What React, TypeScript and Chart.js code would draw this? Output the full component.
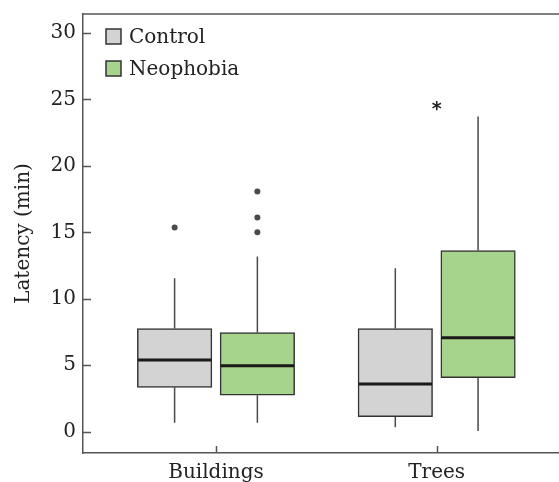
import React, { useEffect, useRef } from "react";
import { Chart, registerables } from "chart.js";

Chart.register(...registerables);

// ---- data ----
const categories = ["Buildings", "Trees"];
const seriesNames = ["Control", "Neophobia"];

const controlLow = [0.68, 0.33];
const controlQ1 = [3.34, 1.13];
const controlMedian = [5.4, 3.59];
const controlQ3 = [7.76, 7.76];
const controlHigh = [11.55, 12.3];
const controlOutliers = [[15.36], []];

const neoLow = [0.68, 0.05];
const neoQ1 = [2.74, 4.07];
const neoMedian = [4.97, 7.06];
const neoQ3 = [7.46, 13.63];
const neoHigh = [13.18, 23.72];
const neoOutliers = [[18.07, 16.11, 15.01], []];

const significance = ["", "*"];
const significanceValue = [0, 24.5];

const yTicks = [0, 5, 10, 15, 20, 25, 30];

// ---- style ----
const FONT = "'DejaVu Serif', serif";
const AXIS_COLOR = "#555555";
const TEXT_COLOR = "#222222";
const CONTROL_FILL = "#d3d3d3";
const NEO_FILL = "#a6d48c";
const BOX_BORDER = "#333333";
const GROUP_OFFSET = 0.1875;
const BOX_WIDTH = 74.5;

type Stats = { low: number[]; q1: number[]; med: number[]; q3: number[]; high: number[] };
const stats: Stats[] = [
  { low: controlLow, q1: controlQ1, med: controlMedian, q3: controlQ3, high: controlHigh },
  { low: neoLow, q1: neoQ1, med: neoMedian, q3: neoQ3, high: neoHigh },
];

const boxPlugin = {
  id: "boxExtras",
  beforeDatasetsDraw(chart: any) {
    const { ctx } = chart;
    const y = chart.scales.y;
    [0, 1].forEach((di) => {
      const meta = chart.getDatasetMeta(di);
      meta.data.forEach((el: any, i: number) => {
        const s = stats[di];
        ctx.save();
        ctx.strokeStyle = "#4a4a4a";
        ctx.lineWidth = 1.5;
        ctx.beginPath();
        ctx.moveTo(el.x, y.getPixelForValue(s.high[i]));
        ctx.lineTo(el.x, y.getPixelForValue(s.q3[i]));
        ctx.moveTo(el.x, y.getPixelForValue(s.q1[i]));
        ctx.lineTo(el.x, y.getPixelForValue(s.low[i]));
        ctx.stroke();
        ctx.restore();
      });
    });
  },
  afterDatasetsDraw(chart: any) {
    const { ctx, chartArea } = chart;
    const x = chart.scales.x;
    const y = chart.scales.y;
    [0, 1].forEach((di) => {
      const meta = chart.getDatasetMeta(di);
      meta.data.forEach((el: any, i: number) => {
        const s = stats[di];
        const py = y.getPixelForValue(s.med[i]);
        ctx.save();
        ctx.strokeStyle = "#1a1a1a";
        ctx.lineWidth = 3;
        ctx.beginPath();
        ctx.moveTo(el.x - el.width / 2 + 0.5, py);
        ctx.lineTo(el.x + el.width / 2 - 0.5, py);
        ctx.stroke();
        ctx.restore();
      });
    });
    significance.forEach((t, i) => {
      if (!t) return;
      const px = x.getPixelForValue(i + 1);
      const py = y.getPixelForValue(significanceValue[i]);
      ctx.save();
      ctx.fillStyle = "#222";
      ctx.font = "bold 19px 'DejaVu Sans'";
      ctx.textAlign = "center";
      ctx.textBaseline = "alphabetic";
      ctx.fillText(t, px, py + 9);
      ctx.restore();
    });
    ctx.save();
    ctx.strokeStyle = AXIS_COLOR;
    ctx.lineWidth = 1.5;
    ctx.beginPath();
    ctx.moveTo(chartArea.left, chartArea.top);
    ctx.lineTo(chartArea.right, chartArea.top);
    yTicks.forEach((v) => {
      const py = Math.round(y.getPixelForValue(v)) + 0.5;
      ctx.moveTo(chartArea.left, py);
      ctx.lineTo(chartArea.left + 8, py);
    });
    categories.forEach((_, i) => {
      const px = Math.round(x.getPixelForValue(i + 1)) + 0.5;
      ctx.moveTo(px, chartArea.bottom);
      ctx.lineTo(px, chartArea.bottom - 7);
    });
    ctx.stroke();
    ctx.restore();
    const fills = [CONTROL_FILL, NEO_FILL];
    seriesNames.forEach((name, i) => {
      const top = 29 + i * 32;
      ctx.save();
      ctx.fillStyle = fills[i];
      ctx.fillRect(106, top, 15, 15);
      ctx.strokeStyle = BOX_BORDER;
      ctx.lineWidth = 1.5;
      ctx.strokeRect(106, top, 15, 15);
      ctx.fillStyle = TEXT_COLOR;
      ctx.font = `20px ${FONT}`;
      ctx.textAlign = "left";
      ctx.textBaseline = "alphabetic";
      ctx.fillText(name, 129, top + 14);
      ctx.restore();
    });
  },
};

export default function App() {
  const ref = useRef<HTMLCanvasElement>(null);
  useEffect(() => {
    document.body.style.margin = "0";
    const makeBox = (di: number, label: string, color: string) => ({
      type: "bar" as const,
      label,
      data: categories.map((_, i) => ({
        x: i + 1 + (di === 0 ? -GROUP_OFFSET : GROUP_OFFSET),
        y: [stats[di].q1[i], stats[di].q3[i]],
      })),
      backgroundColor: color,
      borderColor: BOX_BORDER,
      borderWidth: 1.5,
      borderSkipped: false,
      barThickness: BOX_WIDTH,
      grouped: false,
    });
    const outlierPoints: { x: number; y: number }[] = [];
    [controlOutliers, neoOutliers].forEach((arr, di) => {
      arr.forEach((vals, i) => {
        vals.forEach((v) =>
          outlierPoints.push({ x: i + 1 + (di === 0 ? -GROUP_OFFSET : GROUP_OFFSET), y: v })
        );
      });
    });
    const chart = new Chart(ref.current as HTMLCanvasElement, {
      type: "bar",
      data: {
        datasets: [
          makeBox(0, seriesNames[0], CONTROL_FILL),
          makeBox(1, seriesNames[1], NEO_FILL),
          {
            type: "scatter",
            label: "Outliers",
            data: outlierPoints,
            pointRadius: 3,
            pointBackgroundColor: "#4a4a4a",
            pointBorderColor: "#4a4a4a",
            pointBorderWidth: 0,
          } as any,
        ],
      },
      options: {
        animation: false,
        responsive: true,
        maintainAspectRatio: false,
        layout: { autoPadding: false, padding: { top: 14, right: 0, left: 0, bottom: 0 } },
        plugins: { legend: { display: false }, tooltip: { enabled: false } },
        scales: {
          x: {
            type: "linear",
            offset: false,
            min: 0.3974,
            max: 2.5542,
            afterBuildTicks: (s: any) => {
              s.ticks = categories.map((_, i) => ({ value: i + 1 }));
            },
            afterFit: (s: any) => {
              s.height = 29;
              s.paddingLeft = 0;
              s.paddingRight = 0;
            },
            ticks: {
              autoSkip: false,
              maxRotation: 0,
              padding: 8,
              color: TEXT_COLOR,
              font: { family: FONT, size: 20 },
              callback: (v: any) => categories[Math.round(v) - 1] ?? "",
            },
            grid: { display: true, offset: false, drawOnChartArea: false, drawTicks: false },
            border: { display: true, color: AXIS_COLOR, width: 1.5 },
          },
          y: {
            type: "linear",
            min: -1.603,
            max: 31.43,
            afterBuildTicks: (s: any) => {
              s.ticks = yTicks.map((v) => ({ value: v }));
            },
            afterFit: (s: any) => {
              s.width = 83;
              s.paddingTop = 0;
              s.paddingBottom = 0;
            },
            ticks: {
              autoSkip: false,
              padding: 7,
              color: TEXT_COLOR,
              font: { family: FONT, size: 20 },
            },
            grid: { display: true, drawOnChartArea: false, drawTicks: false },
            border: { display: true, color: AXIS_COLOR, width: 1.5 },
            title: {
              display: true,
              text: "Latency (min)",
              color: TEXT_COLOR,
              font: { family: FONT, size: 20 },
              padding: { top: 12, bottom: 0 },
            },
          },
        },
      },
      plugins: [boxPlugin],
    });
    return () => chart.destroy();
  }, []);
  return (
    <div style={{ position: "fixed", left: 0, top: 0, width: 559, height: 482, background: "#fff" }}>
      <canvas ref={ref} />
    </div>
  );
}
